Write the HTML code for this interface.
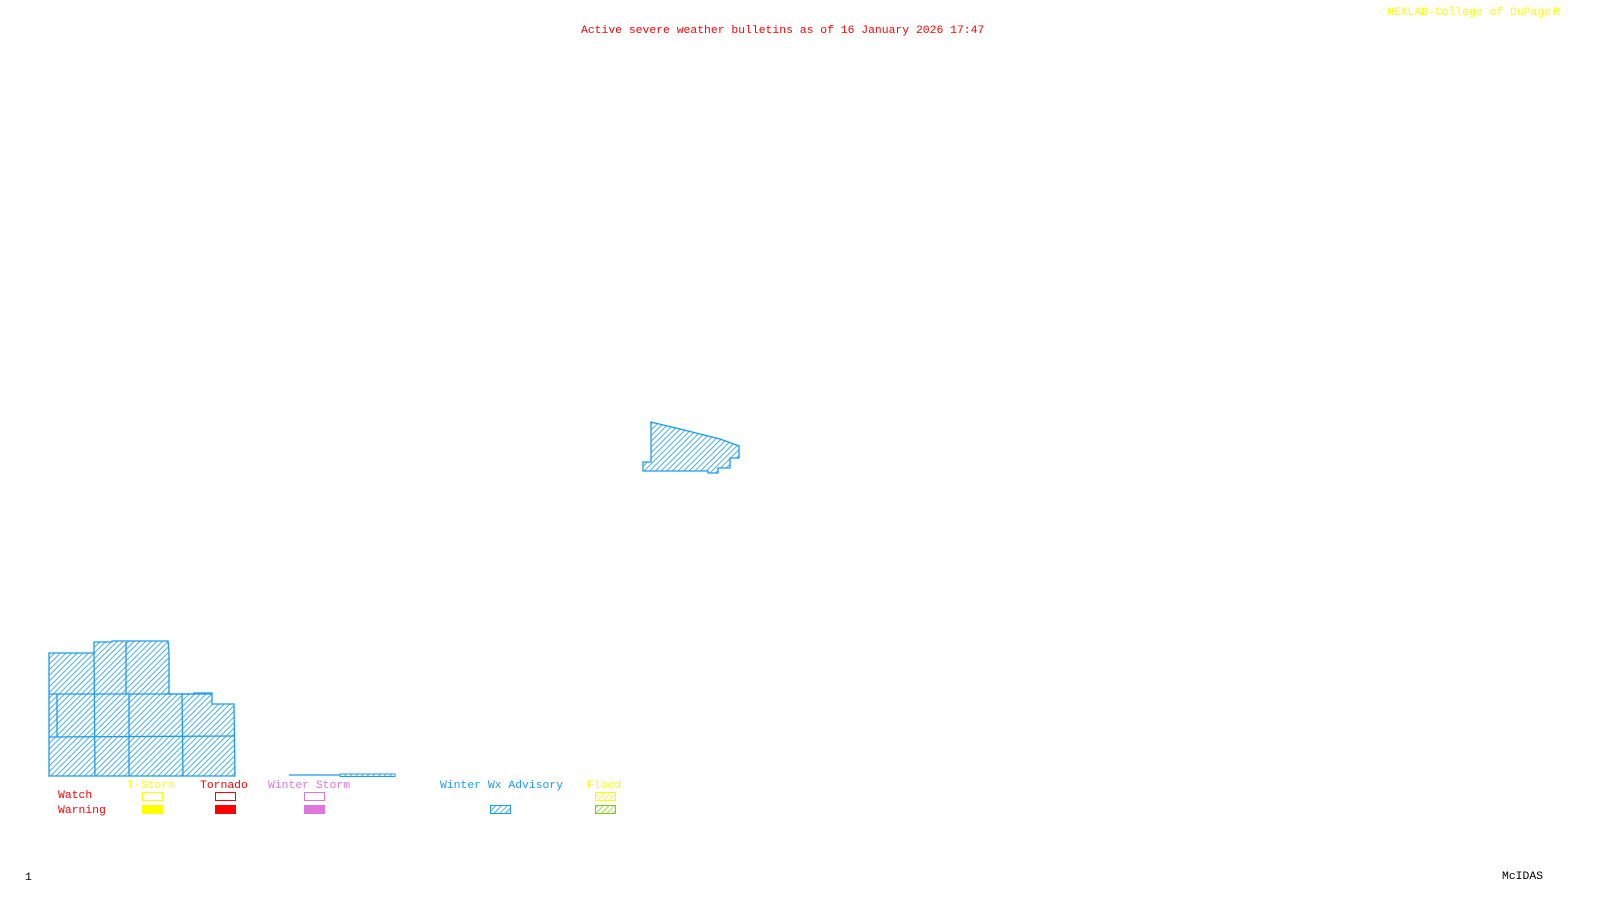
<!DOCTYPE html>
<html><head><meta charset="utf-8"><style>
html,body{margin:0;padding:0;background:#fff;width:1600px;height:900px;overflow:hidden}
svg{display:block}
text{font-family:"Liberation Mono",monospace;font-size:11.4px}
</style></head><body>
<svg width="1600" height="900" viewBox="0 0 1600 900">
<defs>
<pattern id="hb" width="4" height="4" patternUnits="userSpaceOnUse" patternTransform="rotate(45)">
<rect width="4" height="4" fill="#fff"/><line x1="0" y1="0" x2="0" y2="4" stroke="#1a9cf0" stroke-width="1.6"/></pattern>
<pattern id="hy" width="4" height="4" patternUnits="userSpaceOnUse" patternTransform="rotate(45)">
<line x1="0" y1="0" x2="0" y2="4" stroke="#f0f000" stroke-width="1.4"/></pattern>
<pattern id="hg" width="4" height="4" patternUnits="userSpaceOnUse" patternTransform="rotate(45)">
<line x1="0" y1="0" x2="0" y2="4" stroke="#7cd000" stroke-width="1.4"/></pattern>
</defs>
<text x="581" y="33" fill="#ff0000">Active severe weather bulletins as of 16 January 2026 17:47</text>
<text x="1387" y="15" fill="#ffff00">NEXLAB-College of DuPage</text>
<text x="1553" y="15" fill="#ffff00">R</text>
<polygon points="651,422 655,423 680,429 700,434 720,439 739,446 739,458 730,458 730,468 718,468 718,473 708,473 708,471 643,471 643,462 651,462" fill="url(#hb)" stroke="#1a9cf0" stroke-width="1.3"/>
<polygon points="49,653 94,653 94,642 112,642 112,641 168,641 169,652 169,694 181,694 194,694 194,693 212,693 212,704 234,704 235,776 49,776" fill="url(#hb)" stroke="#1a9cf0" stroke-width="1.3"/>
<g stroke="#1a9cf0" stroke-width="1.3" fill="none">
<line x1="49" y1="694" x2="212" y2="694"/>
<line x1="49" y1="737" x2="235" y2="736"/>
<line x1="94" y1="653" x2="95" y2="776"/>
<line x1="126" y1="642" x2="126" y2="694"/>
<line x1="129" y1="694" x2="129" y2="776"/>
<line x1="182" y1="694" x2="183" y2="776"/>
<line x1="57" y1="694" x2="57" y2="737"/>
</g>
<line x1="289" y1="775" x2="340" y2="775" stroke="#1a9cf0" stroke-width="1.3"/>
<rect x="340" y="774" width="55" height="2.5" fill="url(#hb)" stroke="#1a9cf0" stroke-width="1"/>
<text x="127" y="788" fill="#ffff00">T-Storm</text>
<text x="200" y="788" fill="#ff0000">Tornado</text>
<text x="268" y="788" fill="#dd77dd">Winter Storm</text>
<text x="440" y="788" fill="#1a9cf0">Winter Wx Advisory</text>
<text x="587" y="788" fill="#ffff00">Flood</text>
<text x="58" y="798" fill="#ff0000">Watch</text>
<text x="58" y="813" fill="#ff0000">Warning</text>
<rect x="142.5" y="792.5" width="20" height="8" fill="none" stroke="#ffff00"/>
<rect x="142" y="805" width="21" height="9" fill="#ffff00"/>
<rect x="215.5" y="792.5" width="20" height="8" fill="none" stroke="#ff0000"/>
<rect x="215" y="805" width="21" height="9" fill="#ff0000"/>
<rect x="304.5" y="792.5" width="20" height="8" fill="none" stroke="#dd77dd"/>
<rect x="304" y="805" width="21" height="9" fill="#dd77dd"/>
<rect x="490.5" y="805.5" width="20" height="8" fill="url(#hb)" stroke="#1a9cf0"/>
<rect x="595.5" y="792.5" width="20" height="8" fill="url(#hy)" stroke="#ffff00"/>
<rect x="595.5" y="805.5" width="20" height="8" fill="url(#hg)" stroke="#7cd000"/>
<text x="25" y="880" fill="#000" font-size="10">1</text>
<text x="1502" y="879" fill="#000">McIDAS</text>
</svg>
</body></html>
